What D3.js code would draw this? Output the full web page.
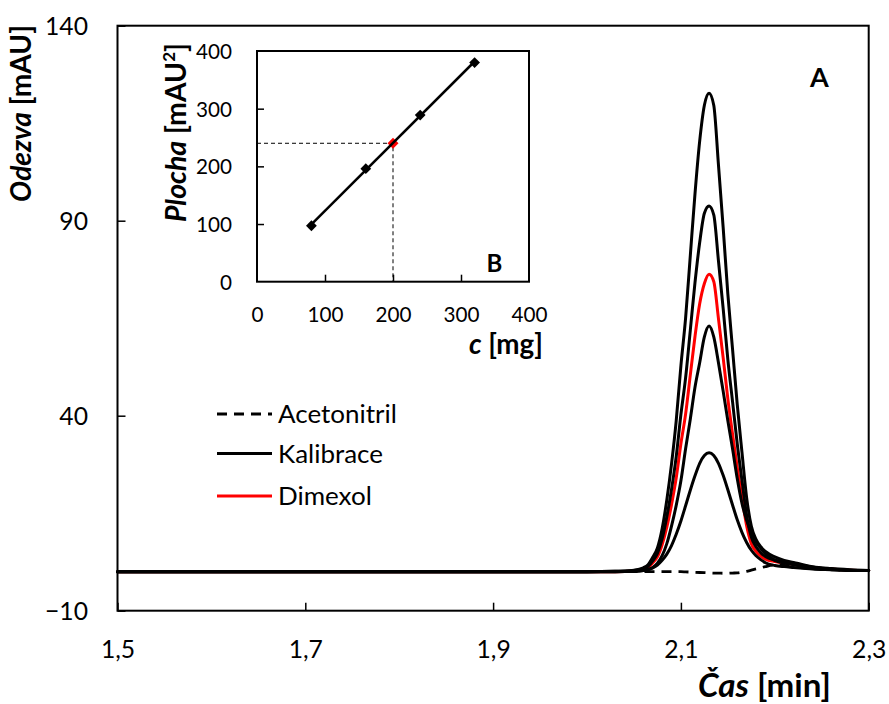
<!DOCTYPE html>
<html><head><meta charset="utf-8">
<script src="https://cdn.jsdelivr.net/npm/d3@7"></script>
<style>
html,body{margin:0;padding:0;background:#fff;}
svg{display:block;font-family:Lato,"Open Sans",sans-serif;}
</style></head>
<body><svg id="chart" width="889" height="704"></svg>
<script>
// ---- main chromatogram data ----
const times = [1.5,1.6,1.7,1.8,1.9,2.0,2.03,2.05,2.06,2.065,2.07,2.075,2.08,2.085,2.09,2.095,2.1,2.105,2.11,2.115,2.12,2.125,2.13,2.135,2.14,2.145,2.15,2.155,2.16,2.165,2.17,2.175,2.18,2.185,2.19,2.2,2.21,2.22,2.23,2.24,2.26,2.28,2.3];
const acetonitril = [0,0,0,0,0,0,0, 0,0,0,0,0,0,0,0,0,0,-0.05,-0.1,-0.15,-0.2,-0.25,-0.3,-0.35,-0.35,-0.4,-0.4,-0.35,-0.3,-0.1,0.1,0.4,0.7,1.0,1.3,1.7,1.6,1.3,1.0,0.8,0.5,0.35,0.3];
const kalibrace320 = [0,0,0,0,0,0,0.1, 0.4,1.0,1.8,3.7,6.1,11.0,18.4,27.6,38.7,52.8,65.0,81.0,96.9,110.4,119.6,122.7,119.6,104.3,88.3,71.2,57.1,42.9,30.7,19.0,11.7,8.3,6.4,5.2,3.8,2.9,2.4,1.8,1.3,0.8,0.5,0.3];
const kalibrace240 = [0,0,0,0,0,0,0.1, 0.3,0.8,1.4,2.8,4.7,8.4,14.1,21.1,29.5,40.3,49.7,61.9,74.1,84.4,91.9,93.8,91.5,79.7,67.5,54.4,43.6,32.8,23.5,14.5,8.9,6.4,4.9,3.9,3.0,2.5,2.1,1.6,1.2,0.7,0.4,0.3];
const kalibrace160 = [0,0,0,0,0,0,0, 0.1,0.3,0.6,1.1,2.2,4.1,7.2,11.7,17.0,23.3,31.5,39.1,47.3,53.6,60.2,63.0,60.2,53.6,46.3,38.7,31.5,23.9,17.6,13.2,10.1,7.6,6.0,4.7,2.9,2.2,1.8,1.4,1.0,0.6,0.4,0.3];
const kalibrace80 = [0,0,0,0,0,0,0, 0.1,0.3,0.5,1.0,1.7,2.9,4.5,6.7,9.6,13.0,16.9,20.9,24.6,27.8,29.8,30.5,29.8,27.8,24.7,21.0,17.1,13.3,10.1,7.5,5.5,4.1,3.1,2.3,1.6,1.3,1.1,0.9,0.7,0.5,0.3,0.3];
const dimexol = [0,0,0,0,0,0,0, 0.2,0.6,1.1,2.3,3.8,6.9,11.4,17.2,24.0,32.8,40.4,50.4,60.3,68.7,73.9,76.3,74.4,64.9,54.9,44.3,35.3,26.7,19.1,11.8,7.2,5.2,4.0,3.2,2.6,2.2,1.9,1.5,1.1,0.7,0.4,0.3];
const xTicks = [1.5,1.7,1.9,2.1,2.3];
const xTickLabels = ["1,5","1,7","1,9","2,1","2,3"];
const yTicks = [-10,40,90,140];
const legendLabels = ["Acetonitril","Kalibrace","Dimexol"];

// ---- inset calibration data ----
const calibConc = [80,160,240,320];
const calibArea = [97,196,289,380];
const sampleConc = [200];
const sampleArea = [240];
const insetTicks = [0,100,200,300,400];

const svg = d3.select("#chart");

// font-size that makes a text node reach a target width
function fitSize(textSel, target){
  const base = parseFloat(textSel.attr("font-size"));
  const w = textSel.node().getComputedTextLength();
  return base * target / w;
}

// ===== main chart =====
const L = 117.5, R = 868.7, T = 25.7, B = 610.7;
const x = d3.scaleLinear().domain([1.5,2.3]).range([L,R]);
const y = d3.scaleLinear().domain([-10,140]).range([B,T]);

const line = d3.line().x((d,i)=>x(times[i])).y(d=>y(d)).curve(d3.curveMonotoneX);

const gLines = svg.append("g").attr("fill","none").attr("stroke-linejoin","round").attr("stroke-linecap","round");
gLines.append("path").attr("d", line(dimexol)).attr("stroke","#ff0000").attr("stroke-width",3);
[kalibrace80,kalibrace160,kalibrace240,kalibrace320].forEach(s=>{
  gLines.append("path").attr("d", line(s)).attr("stroke","#000").attr("stroke-width",3);
});
gLines.append("path").attr("d", line(acetonitril)).attr("stroke","#000").attr("stroke-width",2.8).attr("stroke-dasharray","10,7").attr("stroke-linecap","butt");

// axes frame
svg.append("rect").attr("x",L).attr("y",T).attr("width",R-L).attr("height",B-T)
  .attr("fill","none").attr("stroke","#000").attr("stroke-width",2);

// tick font size from "140" width in reference (~43px)
const probe = svg.append("text").attr("font-size",24).text("140");
const tickFs = fitSize(probe, 43);
probe.remove();

const xAxis = d3.axisBottom(x).tickValues(xTicks).tickSize(-8).tickFormat((d,i)=>xTickLabels[i]);
const gx = svg.append("g").attr("transform",`translate(0,${B})`).call(xAxis);
gx.select(".domain").remove();
gx.selectAll(".tick line").attr("stroke","#000").attr("stroke-width",1.5);
gx.selectAll("text").attr("font-size",tickFs).attr("fill","#000").attr("font-family","Lato")
  .attr("dy",null).attr("y", 649 - B + 0.36*tickFs);

const yAxis = d3.axisLeft(y).tickValues(yTicks).tickSize(-8).tickPadding(29.5).tickFormat(d3.format("d"));
const gy = svg.append("g").attr("transform",`translate(${L},0)`).call(yAxis);
gy.select(".domain").remove();
gy.selectAll(".tick line").attr("stroke","#000").attr("stroke-width",1.5);
gy.selectAll("text").attr("font-size",tickFs).attr("fill","#000").attr("font-family","Lato").attr("dy","0.36em");

// axis titles
const yt = svg.append("text").attr("transform","translate(31,113.5) rotate(-90)")
  .attr("text-anchor","middle").attr("font-size",24).attr("font-weight","bold");
yt.append("tspan").attr("font-style","italic").text("Odezva");
yt.append("tspan").text(" [mAU]");
yt.attr("font-size", fitSize(yt,177));

const xt = svg.append("text").attr("x",698).attr("y",697).attr("text-anchor","start")
  .attr("font-size",24).attr("font-weight","bold");
xt.append("tspan").attr("font-style","italic").text("Čas");
xt.append("tspan").text(" [min]");
xt.attr("font-size", fitSize(xt,133));

svg.append("text").attr("x",819.5).attr("y",87).attr("text-anchor","middle")
  .attr("font-size",27).attr("font-weight","bold").text("A");

// legend
const legLineY = [414,453.5,496];
const legStyles = [{c:"#000",dash:"10,7"},{c:"#000",dash:null},{c:"#ff0000",dash:null}];
const probe2 = svg.append("text").attr("font-size",24).text(legendLabels[1]);
const legFs = fitSize(probe2,105);
probe2.remove();
legendLabels.forEach((lab,i)=>{
  const ln = svg.append("line").attr("x1",217).attr("x2",272).attr("y1",legLineY[i]).attr("y2",legLineY[i])
    .attr("stroke",legStyles[i].c).attr("stroke-width",2.8);
  if(legStyles[i].dash) ln.attr("stroke-dasharray",legStyles[i].dash);
  svg.append("text").attr("x",278).attr("y",legLineY[i]).attr("dy","0.35em").attr("font-size",legFs).text(lab);
});

// ===== inset =====
const iL = 257, iR = 529, iT = 51, iB = 281.7;
svg.append("rect").attr("x",iL).attr("y",iT).attr("width",iR-iL).attr("height",iB-iT).attr("fill","#fff");
const ix = d3.scaleLinear().domain([0,400]).range([iL,iR]);
const iy = d3.scaleLinear().domain([0,400]).range([iB,iT]);

// guide dashed lines
svg.append("path").attr("d", d3.line()([[ix(0),iy(sampleArea[0])],[ix(sampleConc[0]),iy(sampleArea[0])],[ix(sampleConc[0]),iy(0)]]))
  .attr("fill","none").attr("stroke","#000").attr("stroke-width",1).attr("stroke-dasharray","4,3");

// red sample marker
svg.append("path").attr("d",d3.symbol().type(d3.symbolSquare).size(60)())
  .attr("transform",`translate(${ix(sampleConc[0])},${iy(sampleArea[0])}) rotate(45)`).attr("fill","#ff0000");

// regression line
const mx = d3.mean(calibConc), my = d3.mean(calibArea);
const slope = d3.sum(calibConc,(c,i)=>(c-mx)*(calibArea[i]-my))/d3.sum(calibConc,c=>(c-mx)*(c-mx));
const icpt = my - slope*mx;
const x0 = d3.min(calibConc), x1 = d3.max(calibConc);
svg.append("line").attr("x1",ix(x0)).attr("y1",iy(icpt+slope*x0)).attr("x2",ix(x1)).attr("y2",iy(icpt+slope*x1))
  .attr("stroke","#000").attr("stroke-width",2.5);

calibConc.forEach((c,i)=>{
  svg.append("path").attr("d",d3.symbol().type(d3.symbolSquare).size(58)())
    .attr("transform",`translate(${ix(c)},${iy(calibArea[i])}) rotate(45)`).attr("fill","#000");
});

svg.append("rect").attr("x",iL).attr("y",iT).attr("width",iR-iL).attr("height",iB-iT)
  .attr("fill","none").attr("stroke","#000").attr("stroke-width",2);

const probe3 = svg.append("text").attr("font-size",20).text("400");
const iFs = fitSize(probe3,36);
probe3.remove();

const ixAxis = d3.axisBottom(ix).tickValues(insetTicks).tickSize(-7).tickFormat(d3.format("d"));
const gix = svg.append("g").attr("transform",`translate(0,${iB})`).call(ixAxis);
gix.select(".domain").remove();
gix.selectAll(".tick line").attr("stroke","#000").attr("stroke-width",1.5)
  .attr("display",d=>(d===0||d===400)?"none":null);
gix.selectAll("text").attr("font-size",iFs).attr("fill","#000").attr("font-family","Lato")
  .attr("dy",null).attr("y", 315 - iB + 0.36*iFs);

const iyAxis = d3.axisLeft(iy).tickValues(insetTicks).tickSize(-7).tickPadding(25).tickFormat(d3.format("d"));
const giy = svg.append("g").attr("transform",`translate(${iL},0)`).call(iyAxis);
giy.select(".domain").remove();
giy.selectAll(".tick line").attr("stroke","#000").attr("stroke-width",1.5)
  .attr("display",d=>(d===0||d===400)?"none":null);
giy.selectAll("text").attr("font-size",iFs).attr("fill","#000").attr("font-family","Lato").attr("dy","0.36em");

const pt = svg.append("text").attr("transform","translate(186,132.5) rotate(-90)")
  .attr("text-anchor","middle").attr("font-size",22).attr("font-weight","bold");
pt.append("tspan").attr("font-style","italic").text("Plocha");
pt.append("tspan").text(" [mAU");
pt.append("tspan").attr("font-size","0.6em").attr("dy","-0.65em").text("2");
pt.append("tspan").attr("dy","0.4em").text("]");
pt.attr("font-size", fitSize(pt,179));

const ct = svg.append("text").attr("x",543).attr("y",354).attr("text-anchor","end")
  .attr("font-size",23).attr("font-weight","bold");
ct.append("tspan").attr("font-style","italic").text("c");
ct.append("tspan").text(" [mg]");
ct.attr("font-size", fitSize(ct,74));

svg.append("text").attr("x",494.5).attr("y",272).attr("text-anchor","middle")
  .attr("font-size",24).attr("font-weight","bold").text("B");
</script>
</body></html>
